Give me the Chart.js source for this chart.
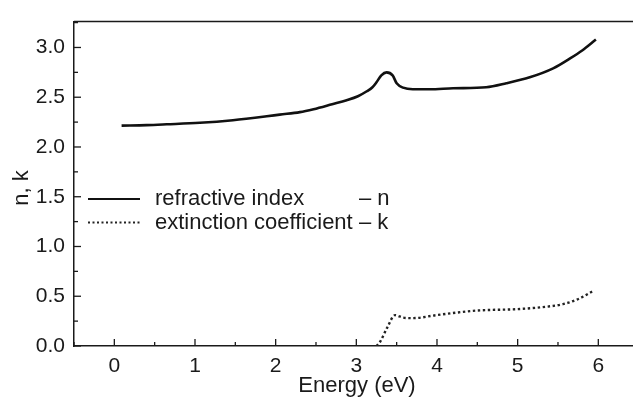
<!DOCTYPE html>
<html><head><meta charset="utf-8">
<script src="https://cdn.jsdelivr.net/npm/chart.js@4/dist/chart.umd.min.js"></script>
<style>html,body{margin:0;padding:0;background:#fff}#wrap{width:633px;height:401px;position:relative}</style>
</head><body><div id="wrap"><canvas id="c"></canvas></div>
<script>
const energyN = [0.09, 0.40, 0.65, 1.06, 1.47, 1.89, 2.05, 2.30, 2.47, 2.70, 2.88, 3.02, 3.13, 3.20, 3.25, 3.31, 3.375, 3.45, 3.50, 3.58, 3.70, 3.91, 4.20, 4.61, 4.86, 5.15, 5.44, 5.65, 5.80, 5.97];
const nValues  = [2.215, 2.22, 2.228, 2.243, 2.269, 2.308, 2.325, 2.35, 2.38, 2.43, 2.47, 2.51, 2.56, 2.60, 2.65, 2.72, 2.75, 2.72, 2.64, 2.596, 2.58, 2.58, 2.59, 2.60, 2.64, 2.70, 2.79, 2.89, 2.97, 3.08];
const energyK = [3.25, 3.30, 3.38, 3.48, 3.58, 3.70, 3.99, 4.49, 4.98, 5.30, 5.56, 5.76, 5.95];
const kValues = [0.00, 0.05, 0.18, 0.31, 0.285, 0.28, 0.31, 0.356, 0.37, 0.39, 0.42, 0.475, 0.56];
const xTickValues = [0, 1, 2, 3, 4, 5, 6];
const yTickValues = [0.0, 0.5, 1.0, 1.5, 2.0, 2.5, 3.0];
const seriesNames = ['refractive index', 'extinction coefficient'];
const seriesSymbols = ['\u2013 n', '\u2013 k'];
const xTitle = 'Energy (eV)';
const yTitle = 'n, k';

const FONT = '"Liberation Sans", Arial, Helvetica, sans-serif';
const INK = '#1a1a1a';

const isMult = (v, s) => Math.abs(v / s - Math.round(v / s)) < 1e-6;

const framePlugin = {
  id: 'frame',
  afterDraw(chart) {
    const ctx = chart.ctx;
    const a = chart.chartArea;
    const xs = chart.scales.x, ys = chart.scales.y;
    ctx.save();
    ctx.strokeStyle = INK;
    ctx.lineWidth = 1.5;
    ctx.beginPath();
    ctx.moveTo(a.left, a.top); ctx.lineTo(a.right, a.top);
    ctx.stroke();
    ctx.lineWidth = 1.3;
    xs.ticks.forEach(t => {
      const px = xs.getPixelForValue(t.value);
      const len = isMult(t.value, 1) ? 7 : 4;
      ctx.beginPath(); ctx.moveTo(px, a.bottom); ctx.lineTo(px, a.bottom - len); ctx.stroke();
    });
    ys.ticks.forEach(t => {
      const py = ys.getPixelForValue(t.value);
      const len = isMult(t.value, 0.5) ? 7 : 4;
      ctx.beginPath(); ctx.moveTo(a.left, py); ctx.lineTo(a.left + len, py); ctx.stroke();
    });
    ctx.fillStyle = INK;
    ctx.font = '22px ' + FONT;
    ctx.textAlign = 'center';
    ctx.textBaseline = 'middle';
    ctx.fillText(xTitle, 357, 386);
    ctx.save();
    ctx.translate(22, 188);
    ctx.rotate(-Math.PI / 2);
    ctx.fillText(yTitle, 0, 0);
    ctx.restore();
    const rows = [199, 222.5];
    chart.data.datasets.forEach((ds, i) => {
      const y = rows[i];
      ctx.save();
      ctx.strokeStyle = ds.borderColor;
      ctx.lineWidth = i === 0 ? 2.2 : 2;
      ctx.setLineDash(i === 0 ? [] : [2, 2.5]);
      ctx.beginPath(); ctx.moveTo(88, y); ctx.lineTo(140, y); ctx.stroke();
      ctx.restore();
      ctx.font = '22px ' + FONT;
      ctx.textAlign = 'left';
      ctx.textBaseline = 'middle';
      ctx.fillText(seriesNames[i], 155, y);
      ctx.fillText(seriesSymbols[i], 359, y);
    });
    ctx.restore();
  }
};

function halfTicks(scale, step) {
  const out = [];
  const start = Math.ceil(scale.min / step - 1e-9);
  const end = Math.floor(scale.max / step + 1e-9);
  for (let i = start; i <= end; i++) out.push({ value: +(i * step).toFixed(4) });
  scale.ticks = out;
}

new Chart(document.getElementById('c'), {
  type: 'line',
  data: {
    datasets: [
      {
        label: seriesNames[0],
        data: energyN.map((x, i) => ({ x, y: nValues[i] })),
        borderColor: '#111',
        borderWidth: 2.6,
        pointRadius: 0,
        cubicInterpolationMode: 'monotone',
        fill: false
      },
      {
        label: seriesNames[1],
        data: energyK.map((x, i) => ({ x, y: kValues[i] })),
        borderColor: '#222',
        borderWidth: 2.4,
        borderDash: [2.4, 2.6],
        pointRadius: 0,
        cubicInterpolationMode: 'monotone',
        fill: false
      }
    ]
  },
  options: {
    responsive: true,
    maintainAspectRatio: false,
    animation: false,
    layout: { padding: { top: 7, right: 0, left: 0, bottom: 0 } },
    plugins: { legend: { display: false }, tooltip: { enabled: false } },
    scales: {
      x: {
        type: 'linear',
        min: -0.5,
        max: 6.43,
        border: { display: true, color: INK, width: 1.5 },
        grid: { display: false, drawTicks: false },
        afterBuildTicks: (s) => halfTicks(s, 0.5),
        ticks: {
          autoSkip: false,
          maxRotation: 0,
          color: INK,
          padding: 8,
          font: { size: 21, family: FONT },
          callback: (v) => xTickValues.some(t => Math.abs(t - v) < 1e-6) ? String(Math.round(v)) : ''
        },
        afterFit: (s) => { s.height = 55; s.paddingRight = 0; }
      },
      y: {
        min: 0,
        max: 3.26,
        border: { display: true, color: INK, width: 1.5 },
        grid: { display: false, drawTicks: false },
        afterBuildTicks: (s) => halfTicks(s, 0.25),
        ticks: {
          autoSkip: false,
          color: INK,
          padding: 9,
          font: { size: 21, family: FONT },
          callback: (v) => yTickValues.some(t => Math.abs(t - v) < 1e-6) ? v.toFixed(1) : ''
        },
        afterFit: (s) => { s.width = 74; }
      }
    }
  },
  plugins: [framePlugin]
});
</script>
</body></html>
